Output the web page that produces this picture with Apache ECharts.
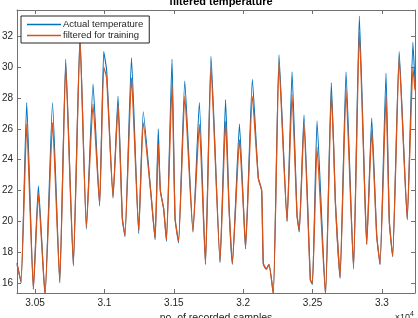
<!DOCTYPE html>
<html>
<head>
<meta charset="utf-8">
<script src="https://cdn.jsdelivr.net/npm/echarts@6/dist/echarts.min.js"></script>
<style>
  html, body { margin: 0; padding: 0; background: #fff; }
  #chart { width: 418px; height: 318px; }
</style>
</head>
<body>
<div id="chart"></div>
<script>
// sample numbers of the turning points
const sampleNo = [
  30370, 30399, 30440, 30488, 30524, 30572, 30626, 30678, 30721, 30776,
  30824, 30870, 30918, 30965, 30995, 31016, 31062, 31098, 31129, 31148,
  31195, 31247, 31280, 31336, 31365, 31388, 31403, 31427, 31447, 31487,
  31509, 31534, 31579, 31638, 31684, 31728, 31768, 31833, 31873, 31898,
  31922, 31973, 32006, 32017, 32066, 32109, 32133, 32145, 32166, 32186,
  32217, 32258, 32316, 32352, 32388, 32404, 32438, 32484, 32499, 32532,
  32593, 32635, 32652, 32664, 32698, 32741, 32795, 32837, 32878, 32890,
  32926, 32962, 32986, 33029, 33053, 33077, 33124, 33182, 33223, 33238
]

const actualTemp = [
  17.3, 16.0, 27.7, 15.6, 22.3, 15.2, 27.7, 16.0, 30.5, 17.1,
  32.1, 19.5, 28.9, 21.0, 31.0, 29.8, 21.5, 28.1, 20.2, 19.0,
  30.6, 19.2, 27.1, 21.7, 18.8, 26.0, 22.0, 20.8, 18.7, 30.5,
  20.2, 18.6, 29.1, 19.3, 27.7, 17.2, 30.7, 17.3, 27.9, 20.9,
  17.2, 26.3, 20.1, 18.2, 29.2, 22.8, 22.0, 17.2, 16.9, 17.2,
  15.3, 30.8, 20.0, 29.7, 20.4, 19.3, 26.9, 16.2, 15.9, 26.5,
  15.2, 29.0, 24.8, 21.3, 16.3, 29.7, 16.9, 33.3, 21.3, 18.5,
  26.7, 19.1, 17.2, 29.6, 20.0, 17.7, 31.0, 20.1, 31.6, 29.0
]

const filteredTemp = [
  17.2, 16.1, 26.3, 15.6, 21.8, 15.2, 26.4, 16.1, 30.1, 17.2,
  31.8, 19.6, 27.6, 21.1, 30.0, 29.3, 21.6, 27.5, 20.2, 19.1,
  29.3, 19.4, 26.4, 21.7, 18.9, 25.0, 22.0, 20.8, 18.8, 28.9,
  20.2, 18.7, 28.1, 19.35, 26.3, 17.25, 30.0, 17.4, 26.5, 20.9,
  17.3, 25.3, 20.1, 18.3, 28.1, 22.8, 22.0, 17.3, 16.9, 17.2,
  15.3, 30.3, 20.0, 28.2, 20.4, 19.4, 26.3, 16.2, 16.0, 24.8,
  15.2, 28.3, 24.8, 21.3, 16.4, 28.5, 17.0, 32.3, 21.3, 18.5,
  25.9, 19.1, 17.2, 28.1, 20.0, 17.75, 30.6, 20.15, 30.0, 28.5
]

const xMin = 30370
const xMax = 33238
const yMin = 15.35
const yMax = 33.7

const fontFamily = 'Liberation Sans, Arial, sans-serif'
const axisColor = '#707070'
const textColor = '#262626'

const chart = echarts.init(document.getElementById('chart'), null, { renderer: 'canvas' })

const boxAxis = (extra) => Object.assign({
  type: 'value',
  min: 0,
  max: 1,
  axisLine: { show: true, lineStyle: { color: axisColor, width: 1 } },
  axisTick: { show: true, inside: true, length: 4, lineStyle: { color: axisColor } },
  axisLabel: { show: false },
  splitLine: { show: false }
}, extra)

const option = {
  animation: false,
  title: {
    text: 'filtered temperature',
    left: 216,
    textAlign: 'center',
    top: -9,
    textStyle: { fontFamily, fontSize: 11, fontWeight: 'bold', color: '#000' }
  },
  legend: {
    orient: 'vertical',
    left: 21,
    top: 16,
    padding: [3, 6, 2, 6],
    itemGap: 0,
    icon: 'rect',
    itemWidth: 34,
    itemHeight: 1.3,
    backgroundColor: '#fff',
    borderColor: '#262626',
    borderWidth: 1,
    textStyle: { fontFamily, fontSize: 9.5, color: textColor, padding: [0, 0, 0, -3], lineHeight: 11 },
    data: ['Actual temperature', 'filtered for training']
  },
  grid: { left: 17, right: 3, top: 10, bottom: 25, outerBoundsMode: 'none' },
  xAxis: [
    boxAxis({
      position: 'bottom',
      min: xMin,
      max: xMax,
      splitNumber: 5,
      name: 'no. of recorded samples',
      nameLocation: 'middle',
      nameGap: 16,
      nameTextStyle: { fontFamily, fontSize: 10.5, color: textColor },
      axisLabel: {
        show: true,
        margin: 5,
        fontFamily,
        fontSize: 10,
        color: textColor,
        formatter: v => (v % 500 === 0 ? String(v / 10000) : '')
      }
    }),
    boxAxis({ position: 'top', min: xMin, max: xMax, splitNumber: 5 })
  ],
  yAxis: [
    boxAxis({
      position: 'left',
      min: yMin,
      max: yMax,
      splitNumber: 9,
      axisLabel: {
        show: true,
        margin: 4,
        fontFamily,
        fontSize: 10,
        color: textColor,
        formatter: v => (Number.isInteger(v) && v % 2 === 0 ? String(v) : '')
      }
    }),
    boxAxis({ position: 'right', min: yMin, max: yMax, splitNumber: 9 })
  ],
  graphic: [{
    type: 'text',
    right: 4,
    top: 311,
    style: {
      text: '×10{s|4}',
      fontFamily,
      fontSize: 9,
      fill: textColor,
      rich: { s: { fontSize: 7, verticalAlign: 'top', padding: [0, 0, 6, 0], fill: textColor } }
    }
  }],
  series: [
    {
      name: 'Actual temperature',
      type: 'line',
      xAxisIndex: 0,
      yAxisIndex: 0,
      data: sampleNo.map((s, i) => [s, actualTemp[i]]),
      symbol: 'none',
      smooth: 0.15,
      lineStyle: { color: '#0072BD', width: 1.1 },
      itemStyle: { color: '#0072BD' }
    },
    {
      name: 'filtered for training',
      type: 'line',
      xAxisIndex: 0,
      yAxisIndex: 0,
      data: sampleNo.map((s, i) => [s, filteredTemp[i]]),
      symbol: 'none',
      smooth: 0.15,
      lineStyle: { color: '#D95319', width: 1.3 },
      itemStyle: { color: '#D95319' }
    }
  ]
}

chart.setOption(option)
</script>
</body>
</html>
